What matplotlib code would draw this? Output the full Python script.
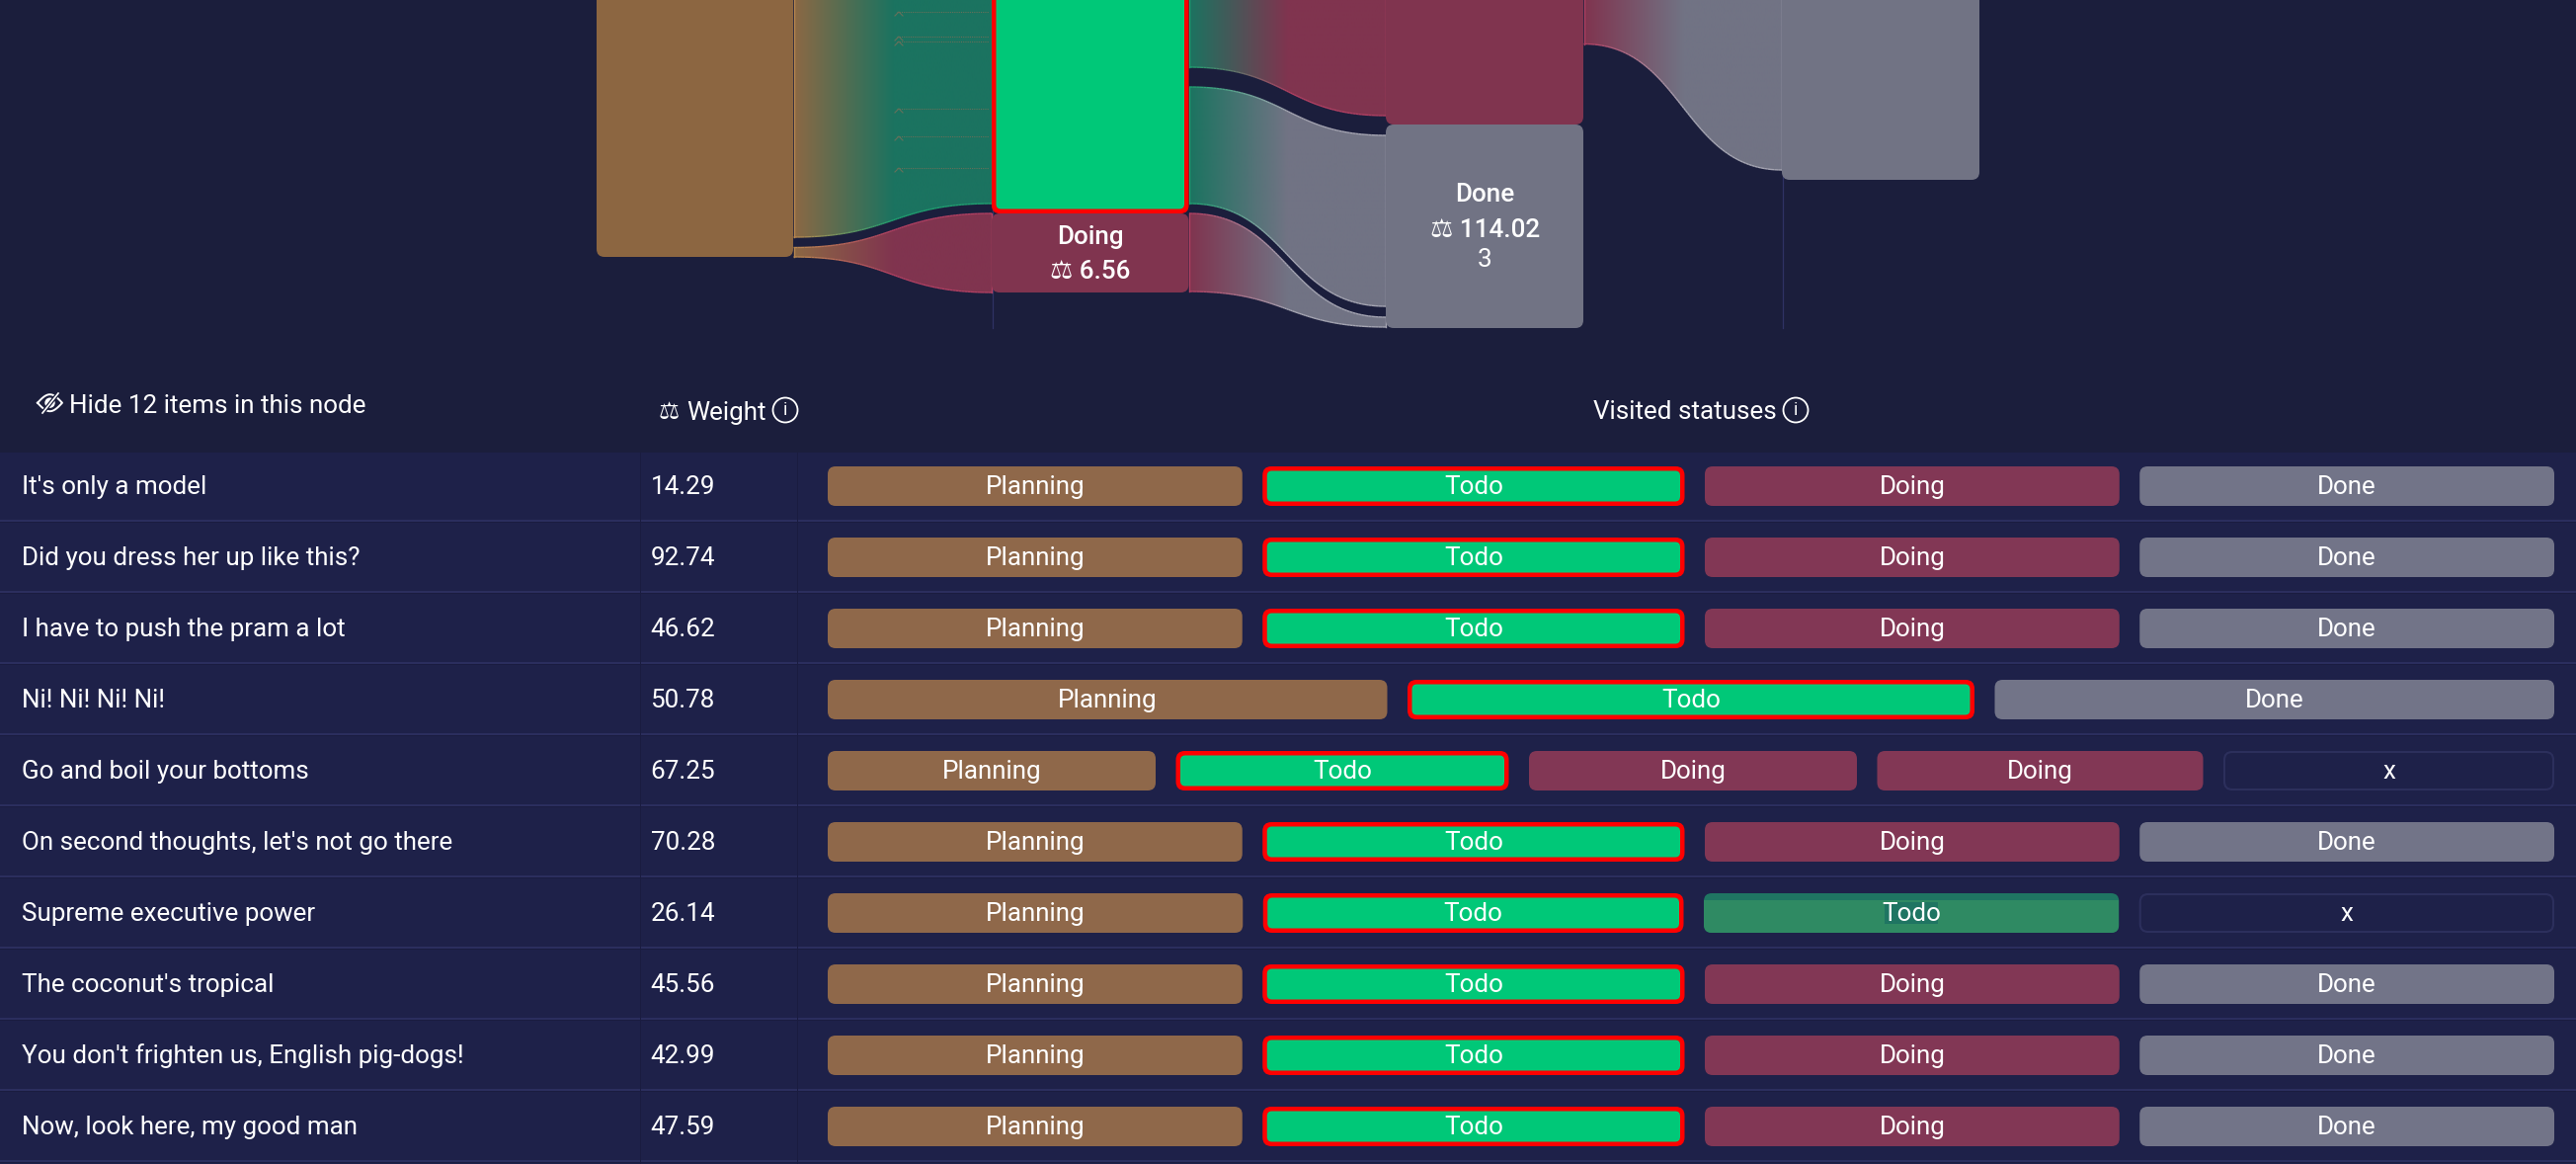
import numpy as np
import matplotlib
matplotlib.use("Agg")
import matplotlib.pyplot as plt
from matplotlib.patches import FancyBboxPatch, PathPatch, Circle, Rectangle
from matplotlib.path import Path
from matplotlib.collections import LineCollection
from matplotlib.colors import to_rgb

plt.rcParams['font.family'] = ['Roboto', 'DejaVu Sans']

# ---------- data ----------
row_labels = ["It's only a model", "Did you dress her up like this?", "I have to push the pram a lot",
              "Ni! Ni! Ni! Ni!", "Go and boil your bottoms", "On second thoughts, let's not go there",
              "Supreme executive power", "The coconut's tropical",
              "You don't frighten us, English pig-dogs!", "Now, look here, my good man"]
row_weights = ["14.29", "92.74", "46.62", "50.78", "67.25", "70.28", "26.14", "45.56", "42.99", "47.59"]
P, T, G, D, X = "Planning", "Todo", "Doing", "Done", "x"
row_paths = [[P, T, G, D], [P, T, G, D], [P, T, G, D], [P, T, D], [P, T, G, G, X],
             [P, T, G, D], [P, T, T, X], [P, T, G, D], [P, T, G, D], [P, T, G, D]]

node_names = ["Planning", "Todo", "Doing", "Doing", "Done", "Done"]
node_col = [0, 1, 1, 2, 2, 3]
node_top = [-80, -80, 216, -80, 126, -80]
node_bot = [260, 216, 296, 126, 332, 182]

link_src = [0, 0, 1, 1, 2, 3]
link_tgt = [1, 2, 3, 4, 4, 5]
link_src_top = [-80, 250.5, -80, 88, 216, -80]
link_src_bot = [240, 260, 68, 206, 295, 44.5]
link_tgt_top = [-80, 216, -80, 137, 321, -80]
link_tgt_bot = [206, 296, 117, 310, 331, 172]

trace_y = [12, 37, 42, 110, 138, 170]

columns = [(604, 803), (1004, 1203.5), (1403, 1603), (1804, 2004)]

BG = "#1b1e3c"
ROW = "#1e2149"
SEP = "#2b2e5e"
SEP_D = "#1a1c40"
node_fill = {"Planning": "#8c6641", "Todo": "#00c878", "Doing": "#80344f", "Done": "#717384"}
link_fill = {"Planning": "#8c6844", "Todo": "#1b7360", "Doing": "#80344f", "Done": "#717384"}
link_edge = {"Planning": "#b8874f", "Todo": "#20a070", "Doing": "#b04062", "Done": "#a5a5b2"}
chip_fill = {"Planning": "#8f684a", "Todo": "#00c878", "Doing": "#823755", "Done": "#727488"}

FS = 18.7

# ---------- canvas ----------
fig = plt.figure(figsize=(26.08, 11.78), dpi=100, facecolor=BG)
ax = fig.add_axes([0, 0, 1, 1])
ax.set_xlim(0, 2608)
ax.set_ylim(1178, 0)
ax.axis("off")


def rrect(x0, y0, x1, y1, r, fc, ec="none", lw=0, z=3):
    p = FancyBboxPatch((x0, y0), x1 - x0, y1 - y0, boxstyle=f"round,pad=0,rounding_size={r}",
                       fc=fc, ec=ec, lw=lw, zorder=z)
    ax.add_patch(p)
    return p


def sig(x0, x1, y0, y1, n=80):
    t = np.linspace(0, 1, n)[:, None]
    xm = (x0 + x1) / 2
    xs = (1 - t) ** 3 * x0 + 3 * (1 - t) ** 2 * t * xm + 3 * (1 - t) * t ** 2 * xm + t ** 3 * x1
    ys = (1 - t) ** 3 * y0 + 3 * (1 - t) ** 2 * t * y0 + 3 * (1 - t) * t ** 2 * y1 + t ** 3 * y1
    return np.hstack([xs, ys])


def grad_rgb(c0, c1, u):
    f = np.clip(u / 0.5, 0, 1)[..., None]
    return (1 - f) * np.array(to_rgb(c0)) + f * np.array(to_rgb(c1))


# ---------- sankey guides ----------
for c in (1, 3):
    ax.plot([columns[c][0] + 0.5] * 2, [0, 332], color="#2f3264", lw=0.9, zorder=1)

# ---------- sankey links ----------
for s, t, st, sb, tt, tb in zip(link_src, link_tgt, link_src_top, link_src_bot, link_tgt_top, link_tgt_bot):
    x0 = columns[node_col[s]][1] + 0.5
    x1 = columns[node_col[t]][0]
    top = sig(x0, x1, st, tt)
    bot = sig(x0, x1, sb, tb)
    verts = np.vstack([top, bot[::-1], top[:1]])
    codes = [Path.MOVETO] + [Path.LINETO] * (len(verts) - 2) + [Path.CLOSEPOLY]
    clip = PathPatch(Path(verts, codes), fc="none", ec="none", transform=ax.transData)
    ax.add_patch(clip)
    u = np.linspace(0, 1, 400)
    img = grad_rgb(link_fill[node_names[s]], link_fill[node_names[t]], u)[None, :, :]
    im = ax.imshow(img, extent=[x0, x1, 400, -100], aspect="auto", zorder=2, interpolation="bilinear")
    im.set_clip_path(clip)
    # gradient stroke on the visible edges
    for curve in (top, bot):
        seg = np.stack([curve[:-1], curve[1:]], axis=1)
        uu = (curve[:-1, 0] - x0) / (x1 - x0)
        cols = grad_rgb(link_edge[node_names[s]], link_edge[node_names[t]], uu)
        ax.add_collection(LineCollection(seg, colors=cols, linewidths=1.0, zorder=2.2))
    ax.plot([x0, x0], [st, sb], color=link_edge[node_names[s]], lw=1.0, zorder=2.2)
    ax.plot([x1, x1], [tt, tb], color=link_edge[node_names[t]], lw=1.0, zorder=2.2)

ax.set_xlim(0, 2608)
ax.set_ylim(1178, 0)

# faint traces inside the first link
for y in trace_y:
    ax.plot([908, 1001], [y, y], color="#66705a", lw=0.8, ls=(0, (1, 1)), zorder=2.5)
    ax.plot([906, 910, 914], [y + 4, y, y + 4], color="#66705a", lw=0.8, zorder=2.5)

# ---------- sankey nodes ----------
for name, c, t, b in zip(node_names, node_col, node_top, node_bot):
    x0, x1 = columns[c]
    if name == "Todo":
        rrect(x0, t, x1, b, 8, "#ff0000", z=4)
        rrect(x0 + 4.5, t + 4.5, x1 - 4.5, b - 4.5, 5, node_fill[name], z=4.1)
    else:
        rrect(x0, t, x1, b, 8, node_fill[name])

nk = dict(color="white", ha="center", va="center_baseline", zorder=6)
ax.text(1103.5, 238, "Doing", fontsize=FS, fontweight="medium", **nk)
ax.text(1103.5, 273, "⚖ 6.56", fontsize=FS, fontweight="medium", **nk)
ax.text(1503.5, 195, "Done", fontsize=FS, fontweight="medium", **nk)
ax.text(1503.5, 231, "⚖ 114.02", fontsize=FS, fontweight="medium", **nk)
ax.text(1503.5, 261, "3", fontsize=FS, **nk)

# ---------- table header ----------
ht = dict(color="white", va="center_baseline", fontsize=FS, zorder=6)
ax.text(70, 409, "Hide 12 items in this node", **ht)
ax.text(667, 415, "⚖", **{**ht, "fontsize": 17})
ax.text(695, 415, "Weight", **ht)
ax.text(1613, 415, "Visited statuses", **ht)
for cx, cy in ((795, 415), (1818, 415)):
    ax.add_patch(Circle((cx, cy), 12.5, fc="none", ec="white", lw=1.3, zorder=6))
    ax.text(cx, cy + 0.5, "i", color="white", fontsize=13, ha="center", va="center", zorder=6)

# eye with a slash
ecx, ecy, ew, eh = 50.5, 407.7, 12.5, 8.5
tt = np.linspace(0, 1, 30)
upper = np.column_stack([ecx - ew + 2 * ew * tt, ecy - eh * np.sin(np.pi * tt)])
lower = np.column_stack([ecx + ew - 2 * ew * tt, ecy + eh * np.sin(np.pi * tt)])
ax.plot(*np.vstack([upper, lower]).T, color="white", lw=1.4, zorder=6)
ax.add_patch(Circle((ecx, ecy), 5.2, fc="white", ec="none", zorder=6))
ax.plot([43, 59], [418, 398], color=BG, lw=3, zorder=6.1)
ax.plot([43, 59], [418, 398], color="white", lw=1.2, zorder=6.2)

# ---------- table rows ----------
ROW_H, TOP = 72, 458
CH_L, CH_R, GAP = 838, 2586, 20.5
rt = dict(color="white", va="center_baseline", fontsize=FS, zorder=6)
for k, (lab, w, path) in enumerate(zip(row_labels, row_weights, row_paths)):
    y0 = TOP + k * ROW_H
    ax.add_patch(Rectangle((0, y0), 2608, ROW_H, fc=ROW, ec="none", zorder=0.5))
    ax.add_patch(Rectangle((0, y0 + 68), 2608, 2.2, fc=SEP, ec="none", zorder=0.7))
    ax.add_patch(Rectangle((0, y0 + 70.2), 2608, 1.2, fc=SEP_D, ec="none", zorder=0.7))
    for cx in (647.5, 807):
        ax.add_patch(Rectangle((cx, y0), 1.2, ROW_H, fc=SEP_D, ec="none", zorder=0.8))
    cy = y0 + 34
    ty = cy - 1.5
    ax.text(22, ty, lab, **rt)
    ax.text(658.5, ty, w, **rt)

    n = len(path)
    if n == 5:
        widths = [332, 337, 332, 330, 335]
    else:
        extra = 5.5 if path[2] == "Todo" else 7.5
        base = (CH_R - CH_L - GAP * (n - 1) - extra) / n
        widths = [base + (extra if j == 1 else 0) for j in range(n)]
    x = CH_L
    for j, (st, wd) in enumerate(zip(path, widths)):
        a, b = x, x + wd
        c0, c1 = cy - 20, cy + 20
        if st == "x":
            rrect(a + 1, c0 + 1, b - 1, c1 - 1, 8, "none", ec="#2c2f5c", lw=1.5)
        elif j == 1:
            rrect(a, c0, b, c1, 9, "#ff0000")
            rrect(a + 4.5, c0 + 4.5, b - 4.5, c1 - 4.5, 5, chip_fill[st], z=3.1)
        elif st == "Todo":
            base_p = rrect(a, c0, b, c1, 8, "#1f7562")
            over = Rectangle((a, c0 + 7), wd, 33, fc="#2f8a63", ec="none", zorder=3.1)
            ax.add_patch(over)
            over.set_clip_path(base_p)
            ax.add_patch(Rectangle(((a + b) / 2 - 27, cy - 11), 54, 22, fc="#1f7562", ec="none", zorder=3.2))
        else:
            rrect(a, c0, b, c1, 8, chip_fill[st])
        ax.text((a + b) / 2, ty, st, color="white", ha="center", va="center_baseline", fontsize=FS, zorder=6)
        x = b + GAP

fig.savefig("out.png", dpi=100, facecolor=BG)
